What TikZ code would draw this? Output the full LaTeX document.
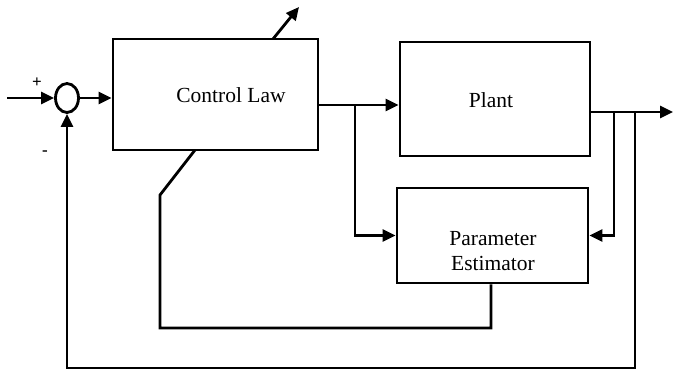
\documentclass[tikz,border=0pt]{standalone}
\usepackage{fontspec}
\setmainfont{Liberation Serif}
\usetikzlibrary{arrows.meta,shapes.geometric}
\begin{document}
\begin{tikzpicture}[x=1pt,y=-1pt,
  blk/.style={draw,line width=2.8pt,inner sep=0pt},
  wire/.style={line width=2.8pt,line join=miter},
  arr/.style={wire,-{Triangle[length=13pt,width=12pt]}},
  lbl/.style={font=\fontsize{21.5}{25}\selectfont,inner sep=0pt},
  sgn/.style={font=\bfseries\fontsize{17}{19}\selectfont,inner sep=0pt}]
\useasboundingbox[fill=white] (0,0) rectangle (675,386);
% blocks
\node[blk,minimum width=205pt,minimum height=111pt] (ctrl) at (215.5,94.5) {};
\node[blk,minimum width=190pt,minimum height=114pt] (plant) at (495,99) {};
\node[blk,minimum width=191pt,minimum height=95pt] (est) at (492.5,235.5) {};
\node[draw,ellipse,line width=2.8pt,minimum width=23pt,minimum height=29pt,inner sep=0pt] (sum) at (67,98) {};
% texts
\node[lbl] (ctrltxt) at (231,95) {Control Law};
\node[lbl] (planttxt) at (491,100) {Plant};
\node[lbl,align=center] (esttxt) at (493,251) {Parameter\\Estimator};
\node[sgn] (plus) at (37,83) {+};
\node[sgn] (minus) at (45,153) {-};
% coordinates
\coordinate (in) at (7,98);
\coordinate (b1) at (355,105);
\coordinate (b2) at (614,112);
\coordinate (b3) at (635,112);
\coordinate (out) at (673,112);
\coordinate (fb) at (67,368);
\coordinate (e1) at (491,328);
\coordinate (e2) at (160,195);
\coordinate (adjlo) at (195,150);
\coordinate (adjhi) at (273,39);
\coordinate (adjtip) at (299,7);
% connectors
\draw[arr] (in) -- (sum.west);
\draw[arr] (sum.east) -- (sum.east -| ctrl.west);
\draw[arr] (ctrl.east |- b1) -- (plant.west |- b1);
\draw[arr] (b1) |- (est.west);
\draw[arr] (plant.east |- b2) -- (out);
\draw[arr] (b2) |- (est.east);
\draw[arr] (b3) |- (fb) -- (sum.south);
\draw[wire] (est.south -| e1) -- (e1) -| (e2) -- (adjlo);
\draw[arr] (adjhi) -- (adjtip);
\end{tikzpicture}
\end{document}
